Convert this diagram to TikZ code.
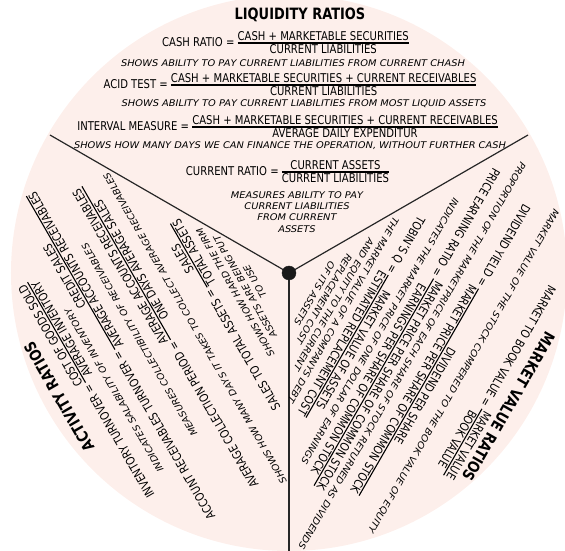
\documentclass[tikz,border=0pt]{standalone}
\usepackage{fontspec}
\setmainfont{DejaVu Sans}[FakeStretch=0.83]
\newfontfamily\notefont{DejaVu Sans}[FakeStretch=1.07]

\definecolor{wheelpink}{RGB}{253,239,235}
\newcommand{\frc}[2]{$\vcenter{\hbox{\setlength{\arrayrulewidth}{1.1pt}\begin{tabular}{@{}c@{}}#1\\[-2pt]\hline #2\end{tabular}}}$}

\tikzset{
    headline/.style={font=\fontsize{15.6}{17}\selectfont\bfseries, inner sep=0pt},
    ratiotext/.style={font=\fontsize{12.1}{14}\selectfont, inner sep=0pt},
    notetext/.style={font=\notefont\itshape\fontsize{9.2}{11.2}\selectfont, align=center, inner sep=0pt},
    spoke/.style={line width=1.2pt, black!85},
}

\begin{document}
\begin{tikzpicture}[x=1pt, y=1pt]
    \useasboundingbox (-289,-278) rectangle (276,273);
    \fill[wheelpink] (0,0) circle (278pt);
    \coordinate (hub) at (0,0);
    \coordinate (edgeL) at (150:276pt);
    \coordinate (edgeR) at (30:276pt);
    \coordinate (edgeB) at (270:278pt);
    \draw[spoke] (hub) -- (edgeL);
    \draw[spoke] (hub) -- (edgeR);
    \draw[spoke] (hub) -- (edgeB);
    \filldraw[black!90] (hub) circle (7pt);

    \node[headline] (liq) at (11,258) {LIQUIDITY RATIOS};
    \node[ratiotext] (cash) at (-3.5,229) {CASH RATIO = \frc{CASH + MARKETABLE SECURITIES}{CURRENT LIABILITIES}};
    \node[notetext] (cashnote) at (4,210) {SHOWS ABILITY TO PAY CURRENT LIABILITIES FROM CURRENT CHASH};
    \node[ratiotext] (acid) at (1,187) {ACID TEST = \frc{CASH + MARKETABLE SECURITIES + CURRENT RECEIVABLES}{CURRENT LIABILITIES}};
    \node[notetext] (acidnote) at (15,169) {SHOWS ABILITY TO PAY CURRENT LIABILITIES FROM MOST LIQUID ASSETS};
    \node[ratiotext] (interval) at (-1.5,145) {INTERVAL MEASURE = \frc{CASH + MARKETABLE SECURITIES + CURRENT RECEIVABLES}{AVERAGE DAILY EXPENDITUR}};
    \node[notetext] (intnote) at (1,127) {SHOWS HOW MANY DAYS WE CAN FINANCE THE OPERATION, WITHOUT FURTHER CASH};
    \node[ratiotext] (current) at (-1.5,100) {CURRENT RATIO = \frc{CURRENT ASSETS}{CURRENT LIABILITIES}};
    \node[notetext] (curnote) at (8,61) {MEASURES ABILITY TO PAY\\CURRENT LIABILITIES\\FROM CURRENT\\ASSETS};

    \begin{scope}[rotate=120, transform shape]
        \node[headline] (act) at (8,261) {ACTIVITY RATIOS};
        \node[ratiotext] (inv) at (-1,230) {INVENTORY TURNOVER = \frc{COST OF GOODS SOLD}{AVERAGE INVENTORY}};
        \node[notetext] (invnote) at (-14,210) {INDICATES SALABILITY OF INVENTORY};
        \node[ratiotext] (rec) at (12,188) {ACCOUNT RECEIVABLES TURNOVER = \frc{CREDIT SALES}{AVERAGE ACCOUNTS RECEIVABLES}};
        \node[notetext] (recnote) at (17,163) {MEASURES COLLECTIBILITY OF RECEIVABLES};
        \node[ratiotext] (acp) at (5,135) {AVERAGE COLLECTION PERIOD = \frc{AVERAGE ACCOUNTS RECEIVABLES}{ONE DAYS AVERAGE SALES}};
        \node[notetext] (acpnote) at (-1,109) {SHOWS HOW MANY DAYS IT TAKES TO COLLECT AVERAGE RECEIVABLES};
        \node[ratiotext] (sta) at (-5,77) {SALES TO TOTAL ASSETS = \frc{SALES}{TOTAL ASSETS}};
        \node[notetext] (stanote) at (10,45) {SHOWS HOW HARD THE FIRM\\ASSETS ARE BEING PUT\\TO USE};
    \end{scope}

    \begin{scope}[rotate=-120, transform shape]
        \node[headline] (mkt) at (6,257) {MARKET VALUE RATIOS};
        \node[ratiotext] (mtb) at (-11,234) {MARKET TO BOOK VALUE = \frc{MARKET VALUE}{BOOK VALUE}};
        \node[notetext] (mtbnote) at (-2,200) {MARKET VALUE OF THE STOCK COMPERED TO THE BOOK VALUE OF EQUITY};
        \node[ratiotext] (dy) at (-10,171) {DIVIDEND YIELD = \frc{DIVIDEND PER SHARE}{MARKET PRICE PER SHARE OF COMMON STOCK}};
        \node[notetext] (dynote) at (10,148) {PROPORTION OF THE MARKETPRICE OF EACH SHARE OF STOCK RETURNED AS DIVIDENDS};
        \node[ratiotext] (pe) at (-11,127) {PRICE EARNING RATIO = \frc{MARKET PRICE PER SHARE OF COMMON STOCK}{EARNINGS PER SHARE OF COMMON STOCK}};
        \node[notetext] (penote) at (5,108) {INDICATES THE MARKET PRICE OF ONE DOLLAR OF EARNINGS};
        \node[ratiotext] (tq) at (1,86) {TOBIN'S Q = \frc{MARKET VALUE OF ASSETS}{ESTIMATED REPLACEMENT COST}};
        \node[notetext] (tqnote) at (5,49) {THE MARKET VALUE OF A COMPANYS DEBT\\AND EQUITY TO THE CURRENT\\REPLACEMENT COST\\OF ITS ASSETS};
    \end{scope}
\end{tikzpicture}
\end{document}
